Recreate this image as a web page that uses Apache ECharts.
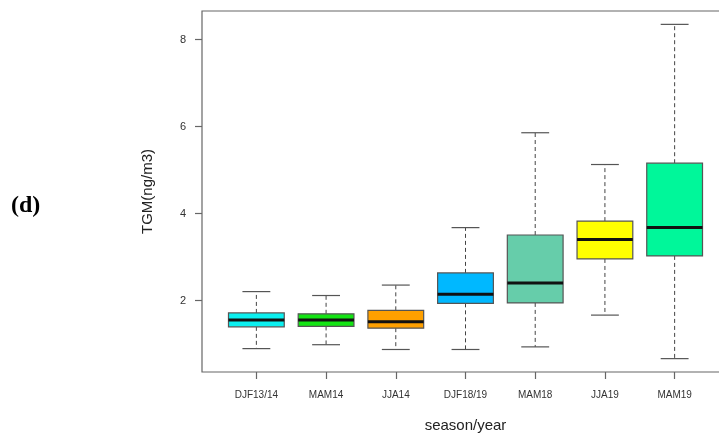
<!DOCTYPE html>
<html>
<head>
<meta charset="utf-8">
<script src="https://cdn.jsdelivr.net/npm/echarts@6/dist/echarts.min.js"></script>
<style>
  html, body { margin: 0; padding: 0; background: #fff; overflow: hidden; }
  #chart { width: 719px; height: 437px; }
</style>
</head>
<body>
<div id="chart"></div>
<script>
// Seasonal TGM distributions (ng/m3): whisker min, Q1, median, Q3, whisker max
const categories = ['DJF13/14', 'MAM14', 'JJA14', 'DJF18/19', 'MAM18', 'JJA19', 'MAM19'];
const lowerWhisker = [0.90, 0.99, 0.88, 0.88, 0.94, 1.67, 0.67];
const lowerQuartile = [1.40, 1.41, 1.37, 1.94, 1.95, 2.96, 3.03];
const medians = [1.56, 1.56, 1.52, 2.15, 2.41, 3.41, 3.68];
const upperQuartile = [1.72, 1.70, 1.78, 2.64, 3.51, 3.83, 5.16];
const upperWhisker = [2.21, 2.12, 2.36, 3.68, 5.86, 5.13, 8.35];
const boxColors = ['#0CF0F0', '#14E414', '#FFA000', '#00B8FF', '#66CDAA', '#FFFF00', '#00F79A'];
const yTicks = [2, 4, 6, 8];

const positions = categories.map((_, i) => i + 1);
const rows = categories.map((_, i) => [
  positions[i], lowerWhisker[i], lowerQuartile[i], medians[i], upperQuartile[i], upperWhisker[i]
]);

// Axis ranges padded by 4% like a classic base-graphics boxplot
const xMin = 0.5 - 0.04 * categories.length;
const xMax = categories.length + 0.5 + 0.04 * categories.length;
const dMin = Math.min(...lowerWhisker), dMax = Math.max(...upperWhisker);
const pad = (dMax - dMin) * 0.04;

const chart = echarts.init(document.getElementById('chart'));

function renderBox(params, api) {
  const x = api.value(0);
  const half = 0.4;   // box width 0.8 of a unit
  const capHalf = 0.2;
  const p = (xv, yv) => api.coord([xv, yv]);
  const [xl, yq1] = p(x - half, api.value(2));
  const [xr, yq3] = p(x + half, api.value(4));
  const [xc, ymin] = p(x, api.value(1));
  const ymax = p(x, api.value(5))[1];
  const ymed = p(x, api.value(3))[1];
  const cl = p(x - capHalf, 0)[0], cr = p(x + capHalf, 0)[0];
  const grey = '#555';
  const dashStyle = { stroke: '#444', lineWidth: 1, lineDash: [4, 3] };
  return {
    type: 'group',
    children: [
      { type: 'line', shape: { x1: xc, y1: yq3, x2: xc, y2: ymax }, style: dashStyle },
      { type: 'line', shape: { x1: xc, y1: yq1, x2: xc, y2: ymin }, style: dashStyle },
      { type: 'line', shape: { x1: cl, y1: ymax, x2: cr, y2: ymax }, style: { stroke: grey, lineWidth: 1.2 } },
      { type: 'line', shape: { x1: cl, y1: ymin, x2: cr, y2: ymin }, style: { stroke: grey, lineWidth: 1.2 } },
      { type: 'rect', shape: { x: xl, y: yq3, width: xr - xl, height: yq1 - yq3 },
        style: { fill: boxColors[params.dataIndex], stroke: grey, lineWidth: 1.2 } },
      { type: 'line', shape: { x1: xl, y1: ymed, x2: xr, y2: ymed }, style: { stroke: '#111', lineWidth: 3 } }
    ]
  };
}

chart.setOption({
  animation: false,
  backgroundColor: '#fff',
  textStyle: { fontFamily: 'Liberation Sans, Arial, sans-serif' },
  grid: {
    left: 202, width: 527, top: 11, height: 361, outerBoundsMode: 'none', containLabel: false,
    show: true, borderColor: '#666', borderWidth: 1.2, backgroundColor: 'transparent'
  },
  xAxis: {
    type: 'value', min: xMin, max: xMax,
    name: 'season/year', nameLocation: 'middle', nameGap: 46,
    nameTextStyle: { fontSize: 15, color: '#222' },
    axisLine: { show: false },
    splitLine: { show: false },
    axisTick: { show: true, length: 7, customValues: positions, lineStyle: { color: '#666', width: 1.2 } },
    axisLabel: {
      customValues: positions, margin: 18, fontSize: 10, color: '#333',
      formatter: v => categories[Math.round(v) - 1] || ''
    }
  },
  yAxis: {
    type: 'value', min: dMin - pad, max: dMax + pad,
    name: 'TGM(ng/m3)', nameLocation: 'middle', nameGap: 47, nameRotate: 90,
    nameTextStyle: { fontSize: 15, color: '#222' },
    axisLine: { show: false },
    splitLine: { show: false },
    axisTick: { show: true, length: 7, customValues: yTicks, lineStyle: { color: '#666', width: 1.2 } },
    axisLabel: { customValues: yTicks, margin: 16, fontSize: 11, color: '#333' }
  },
  graphic: [{
    type: 'text', left: 11, top: 194,
    style: { text: '(d)', font: 'bold 24px "Liberation Serif", "Times New Roman", serif', fill: '#000' }
  }],
  series: [{
    type: 'custom',
    renderItem: renderBox,
    encode: { x: 0, y: [1, 2, 3, 4, 5] },
    data: rows
  }]
});
</script>
</body>
</html>
